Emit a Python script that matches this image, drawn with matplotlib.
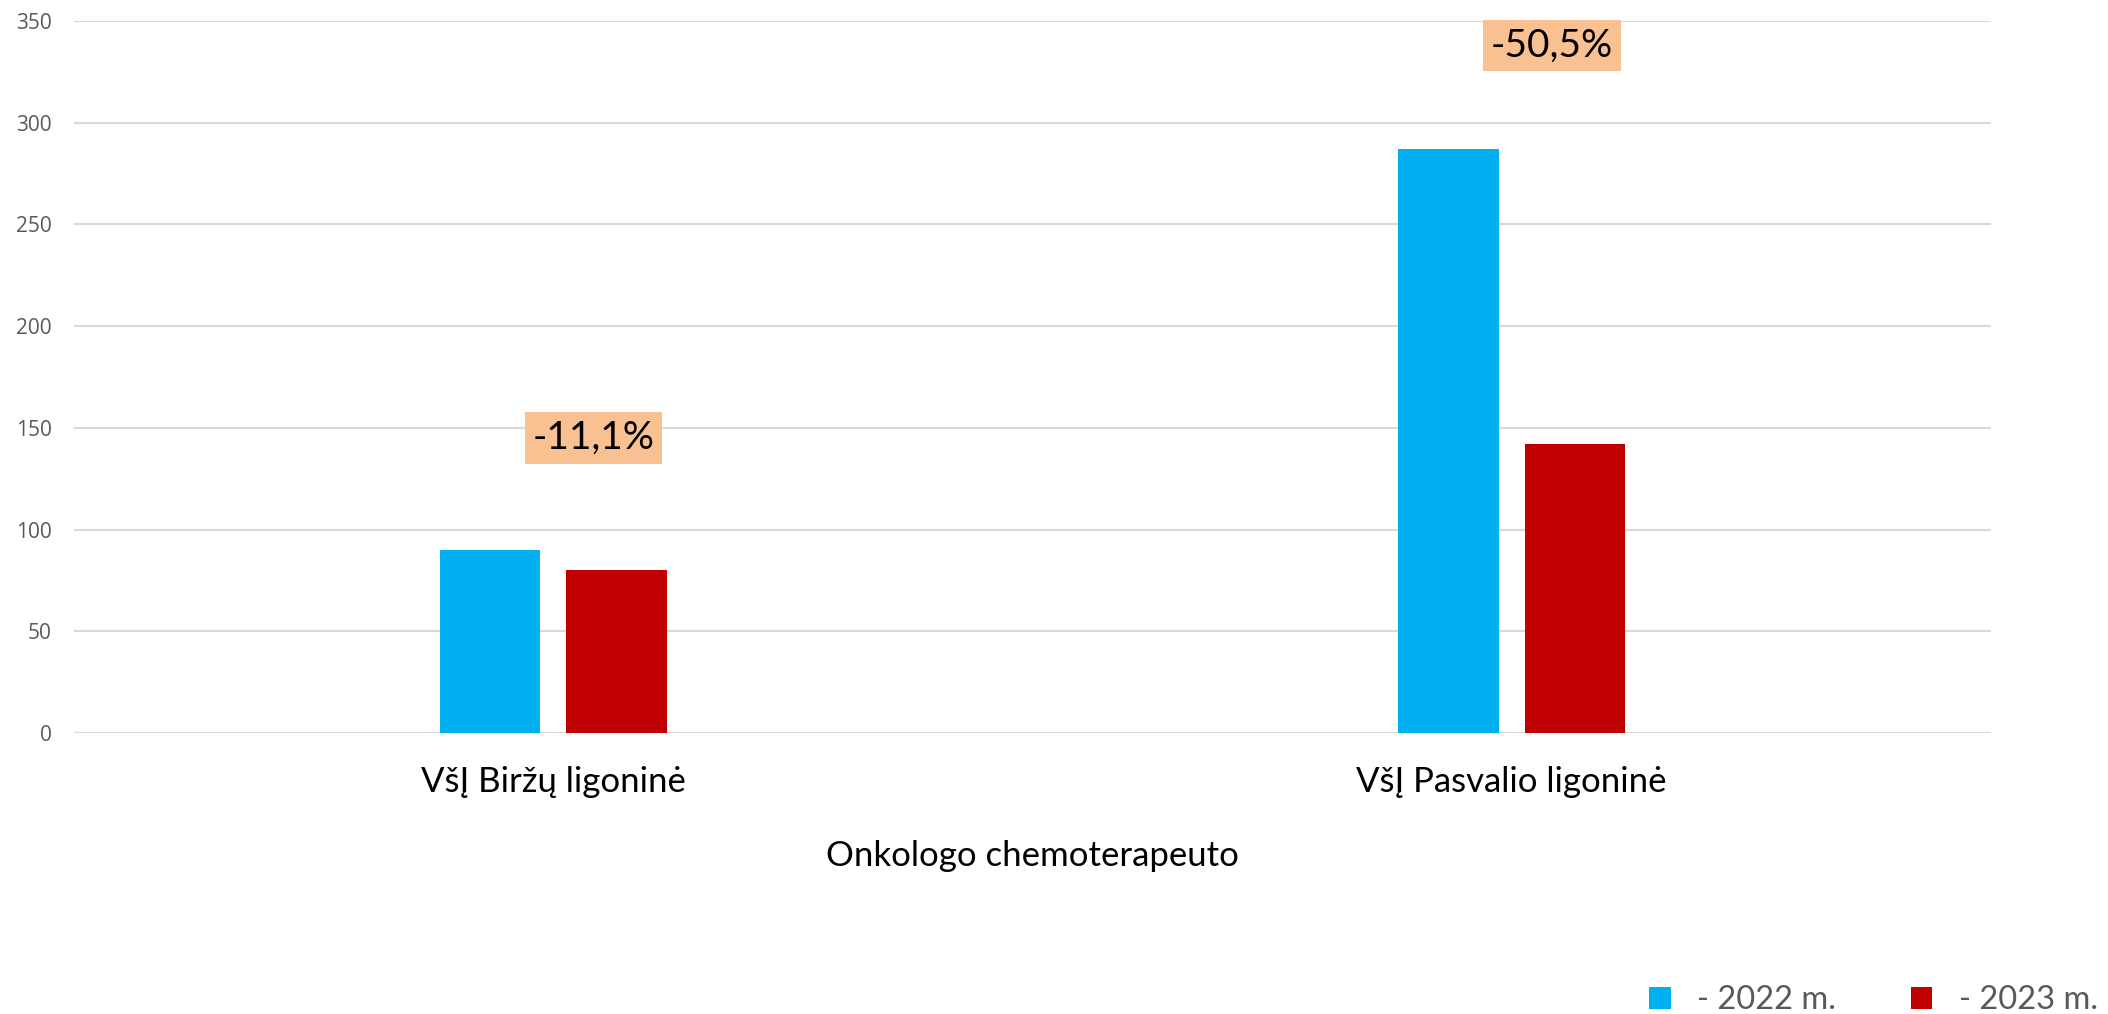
import matplotlib.pyplot as plt
import numpy as np

# Data
categories = ['VšĮ Biržų ligoninė', 'VšĮ Pasvalio ligoninė']
values_2022 = [90, 287]
values_2023 = [80, 142]
series_labels = ['- 2022 m.', '- 2023 m.']
change_labels = ['-11,1%', '-50,5%']
change_y = [145, 338]
yticks = [0, 50, 100, 150, 200, 250, 300, 350]
xlabel = 'Onkologo chemoterapeuto'

plt.rcParams['font.family'] = ['Lato', 'DejaVu Sans']

fig = plt.figure(figsize=(21.08, 10.14), dpi=100)
ax = fig.add_axes([74 / 2108, 281 / 1014, 1917 / 2108, 712 / 1014])

x = np.arange(len(categories))
w = 0.105
off = 0.066
ax.bar(x - off, values_2022, width=w, color='#00B0F0', label=series_labels[0], zorder=3)
ax.bar(x + off, values_2023, width=w, color='#C00000', label=series_labels[1], zorder=3)

ax.set_xlim(-0.5, 1.5)
ax.set_ylim(0, 350)
ax.set_yticks(yticks)
ax.yaxis.grid(True, color='#d9d9d9', linewidth=1.5, zorder=0)
ax.set_axisbelow(True)
for s in ax.spines.values():
    s.set_visible(False)
ax.tick_params(axis='y', length=0, pad=16, labelsize=15, labelcolor='#595959',
               labelfontfamily='Open Sans')
ax.tick_params(axis='x', length=0, pad=24, labelsize=25)
ax.set_xticks(x)
ax.set_xticklabels(categories)
ax.set_xlabel(xlabel, fontsize=25, labelpad=30)

# percent change boxes
for i, (lbl, yy) in enumerate(zip(change_labels, change_y)):
    ax.text(i + 0.042, yy, lbl, fontsize=28, ha='center', va='center', zorder=4,
            bbox=dict(boxstyle='square,pad=0.2', facecolor='#F9C192', edgecolor='none'))

fig.legend(handles=[ax.patches[0], ax.patches[2]], labels=series_labels,
           loc='lower right', bbox_to_anchor=(1.009, -0.03), ncol=2, frameon=False,
           fontsize=23.5, labelcolor='#595959', handlelength=0.66, handleheight=0.66,
           columnspacing=2.3, handletextpad=0.8)

fig.savefig('out.png', dpi=100)
